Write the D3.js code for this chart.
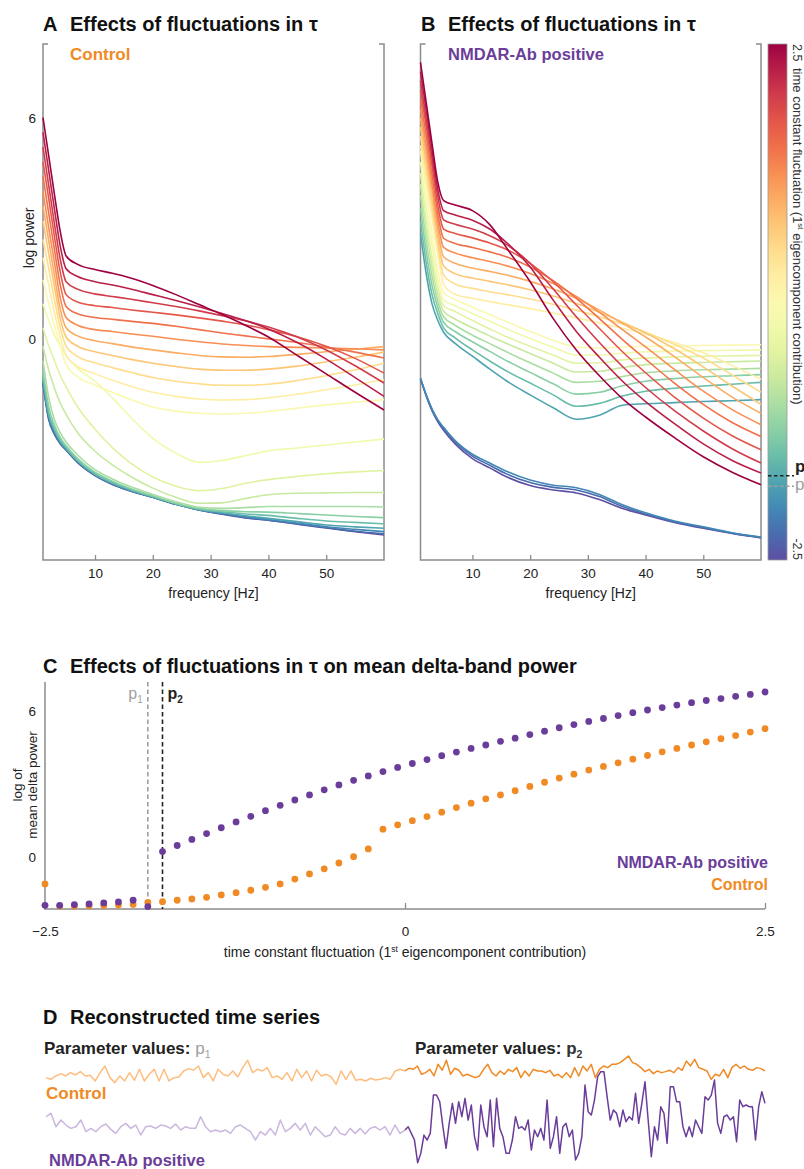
<!DOCTYPE html>
<html>
<head>
<meta charset="utf-8">
<script src="https://cdn.jsdelivr.net/npm/d3@7"></script>
<style>
  body { margin: 0; background: #fff; }
  svg { display: block; font-family: "Liberation Sans", Arial, Helvetica, sans-serif; }
</style>
</head>
<body>
<svg id="fig" width="804" height="1169"></svg>
<script>
// ---------- spectra (panels A and B) ----------
const freqGrid = [1, 2, 3, 4, 5, 7, 10, 13, 16, 20, 24, 28, 32, 36, 40, 45, 50, 55, 60];
const fluctLevels = [-2.5, -2.25, -2, -1.75, -1.5, -1.25, -1, -0.75, -0.5, -0.25, 0,
                     0.25, 0.5, 0.75, 1, 1.25, 1.5, 1.75, 2, 2.25, 2.5];

// log power per fluctuation level (rows follow fluctLevels), sampled at freqGrid
const controlSpectra = [
  [-1.22, -2.2, -2.6, -2.85, -3.02, -3.36, -3.71, -3.95, -4.12, -4.3, -4.49, -4.64, -4.76, -4.86, -4.92, -5.03, -5.13, -5.23, -5.32],
  [-1.2, -2.17, -2.57, -2.84, -3.01, -3.35, -3.7, -3.94, -4.12, -4.3, -4.49, -4.64, -4.75, -4.85, -4.92, -5.02, -5.12, -5.22, -5.29],
  [-1.15, -2.13, -2.54, -2.82, -3.0, -3.34, -3.69, -3.93, -4.11, -4.3, -4.49, -4.64, -4.74, -4.83, -4.9, -5.0, -5.1, -5.17, -5.23],
  [-1.1, -2.08, -2.5, -2.8, -2.98, -3.32, -3.68, -3.92, -4.1, -4.29, -4.48, -4.63, -4.72, -4.8, -4.87, -4.96, -5.05, -5.1, -5.14],
  [-1.0, -2.0, -2.45, -2.75, -2.95, -3.3, -3.66, -3.9, -4.08, -4.28, -4.47, -4.62, -4.69, -4.75, -4.79, -4.87, -4.94, -4.98, -5.02],
  [-0.85, -1.85, -2.35, -2.68, -2.9, -3.25, -3.62, -3.86, -4.05, -4.26, -4.46, -4.6, -4.66, -4.69, -4.7, -4.74, -4.78, -4.82, -4.85],
  [-0.6, -1.6, -2.2, -2.55, -2.8, -3.15, -3.55, -3.8, -4.0, -4.22, -4.42, -4.57, -4.6, -4.58, -4.55, -4.55, -4.55, -4.55, -4.56],
  [-0.2, -0.85, -1.35, -1.75, -2.05, -2.55, -3.05, -3.42, -3.72, -4.05, -4.3, -4.46, -4.45, -4.33, -4.23, -4.19, -4.18, -4.17, -4.17],
  [0.3, -0.2, -0.6, -1.0, -1.3, -1.85, -2.45, -2.95, -3.35, -3.75, -4.0, -4.12, -4.06, -3.92, -3.82, -3.73, -3.66, -3.61, -3.57],
  [0.95, 0.5, 0.1, -0.2, -0.45, -0.8, -1.15, -1.6, -2.1, -2.7, -3.1, -3.35, -3.3, -3.17, -3.04, -2.96, -2.88, -2.8, -2.72],
  [1.6, 0.95, 0.35, -0.2, -0.7, -1.03, -1.25, -1.45, -1.64, -1.85, -1.96, -2.02, -2.04, -2.02, -1.97, -1.88, -1.79, -1.72, -1.65],
  [2.2, 1.45, 0.7, 0.05, -0.45, -0.75, -0.95, -1.12, -1.28, -1.45, -1.56, -1.63, -1.66, -1.65, -1.6, -1.5, -1.38, -1.25, -1.11],
  [2.7, 1.9, 1.05, 0.3, -0.2, -0.48, -0.65, -0.78, -0.9, -1.05, -1.15, -1.22, -1.26, -1.26, -1.23, -1.13, -1.0, -0.84, -0.66],
  [3.2, 2.3, 1.4, 0.55, 0.05, -0.2, -0.35, -0.45, -0.55, -0.66, -0.75, -0.82, -0.85, -0.85, -0.82, -0.74, -0.62, -0.5, -0.36],
  [3.6, 2.65, 1.7, 0.8, 0.3, 0.08, -0.05, -0.13, -0.21, -0.3, -0.38, -0.45, -0.49, -0.5, -0.48, -0.42, -0.35, -0.28, -0.21],
  [4.0, 3.0, 2.05, 1.1, 0.58, 0.37, 0.25, 0.2, 0.14, 0.07, -0.01, -0.08, -0.14, -0.18, -0.21, -0.23, -0.25, -0.27, -0.3],
  [4.4, 3.4, 2.4, 1.45, 0.88, 0.68, 0.58, 0.53, 0.48, 0.42, 0.34, 0.25, 0.16, 0.08, 0.0, -0.1, -0.22, -0.36, -0.52],
  [4.8, 3.8, 2.75, 1.8, 1.2, 1.0, 0.9, 0.85, 0.79, 0.72, 0.65, 0.57, 0.48, 0.38, 0.25, 0.06, -0.2, -0.53, -0.93],
  [5.2, 4.15, 3.1, 2.15, 1.55, 1.35, 1.22, 1.15, 1.08, 0.98, 0.88, 0.76, 0.63, 0.49, 0.32, 0.05, -0.3, -0.73, -1.2],
  [5.6, 4.55, 3.5, 2.5, 1.9, 1.69, 1.55, 1.46, 1.36, 1.2, 1.04, 0.87, 0.69, 0.5, 0.27, -0.1, -0.55, -1.05, -1.56],
  [6.0, 4.95, 3.9, 2.9, 2.25, 2.02, 1.88, 1.78, 1.66, 1.45, 1.2, 0.93, 0.66, 0.37, 0.05, -0.45, -0.95, -1.45, -1.93]
];

const nmdarSpectra = [
  [-1.08, -1.55, -1.95, -2.25, -2.48, -2.85, -3.25, -3.5, -3.75, -3.98, -4.1, -4.18, -4.36, -4.6, -4.78, -4.98, -5.14, -5.28, -5.4],
  [-1.08, -1.54, -1.93, -2.22, -2.44, -2.8, -3.18, -3.43, -3.67, -3.9, -4.03, -4.1, -4.28, -4.55, -4.75, -4.96, -5.12, -5.27, -5.39],
  [-1.07, -1.52, -1.9, -2.19, -2.4, -2.76, -3.13, -3.37, -3.6, -3.83, -3.97, -4.04, -4.22, -4.5, -4.72, -4.94, -5.1, -5.26, -5.38],
  [2.85, 1.75, 0.95, 0.5, 0.18, -0.12, -0.47, -0.82, -1.15, -1.52, -1.87, -2.18, -2.07, -1.8, -1.76, -1.73, -1.7, -1.68, -1.65],
  [3.2, 2.05, 1.2, 0.68, 0.3, 0.03, -0.3, -0.6, -0.88, -1.2, -1.52, -1.83, -1.75, -1.55, -1.42, -1.34, -1.28, -1.23, -1.18],
  [3.55, 2.35, 1.45, 0.85, 0.45, 0.2, -0.08, -0.34, -0.6, -0.91, -1.22, -1.5, -1.45, -1.27, -1.15, -1.08, -1.03, -1.0, -0.97],
  [3.9, 2.65, 1.7, 1.02, 0.6, 0.37, 0.1, -0.13, -0.36, -0.65, -0.93, -1.18, -1.15, -1.02, -0.92, -0.87, -0.84, -0.82, -0.8],
  [4.2, 2.95, 1.95, 1.2, 0.75, 0.54, 0.3, 0.08, -0.13, -0.4, -0.66, -0.9, -0.88, -0.78, -0.7, -0.66, -0.64, -0.62, -0.6],
  [4.5, 3.25, 2.2, 1.36, 0.9, 0.74, 0.5, 0.27, 0.05, -0.2, -0.44, -0.66, -0.65, -0.57, -0.52, -0.49, -0.47, -0.46, -0.45],
  [4.8, 3.6, 2.55, 1.58, 1.05, 0.9, 0.69, 0.48, 0.27, 0.01, -0.23, -0.44, -0.44, -0.39, -0.35, -0.33, -0.32, -0.31, -0.3],
  [5.1, 3.95, 2.9, 1.83, 1.25, 1.07, 0.86, 0.66, 0.46, 0.2, -0.04, -0.22, -0.25, -0.22, -0.2, -0.19, -0.18, -0.17, -0.16],
  [5.25, 4.25, 3.3, 2.3, 1.48, 1.21, 1.1, 1.01, 0.93, 0.82, 0.7, 0.57, 0.43, 0.29, 0.13, -0.1, -0.38, -0.72, -1.1],
  [5.5, 4.5, 3.5, 2.5, 1.73, 1.49, 1.37, 1.28, 1.2, 1.08, 0.94, 0.78, 0.6, 0.4, 0.18, -0.15, -0.52, -0.98, -1.45],
  [5.75, 4.75, 3.75, 2.72, 1.98, 1.77, 1.65, 1.56, 1.47, 1.33, 1.16, 0.96, 0.72, 0.45, 0.16, -0.27, -0.76, -1.28, -1.78],
  [6.0, 5.0, 4.0, 2.95, 2.23, 2.05, 1.92, 1.83, 1.73, 1.56, 1.35, 1.1, 0.78, 0.42, 0.05, -0.48, -1.05, -1.58, -2.02],
  [6.25, 5.25, 4.2, 3.18, 2.48, 2.33, 2.2, 2.1, 1.98, 1.77, 1.5, 1.15, 0.72, 0.25, -0.22, -0.83, -1.42, -1.92, -2.33],
  [6.5, 5.5, 4.45, 3.4, 2.73, 2.59, 2.48, 2.36, 2.22, 1.95, 1.58, 1.1, 0.55, -0.02, -0.55, -1.2, -1.78, -2.27, -2.65],
  [6.75, 5.75, 4.7, 3.62, 2.98, 2.86, 2.74, 2.6, 2.42, 2.05, 1.55, 0.92, 0.28, -0.35, -0.92, -1.58, -2.15, -2.63, -3.01],
  [7.0, 5.95, 4.9, 3.85, 3.23, 3.11, 2.98, 2.8, 2.55, 2.05, 1.35, 0.6, -0.1, -0.75, -1.32, -1.95, -2.5, -2.98, -3.37],
  [7.25, 6.2, 5.1, 4.05, 3.48, 3.36, 3.22, 2.98, 2.6, 1.95, 1.05, 0.2, -0.5, -1.15, -1.7, -2.3, -2.85, -3.3, -3.64],
  [7.5, 6.4, 5.3, 4.25, 3.75, 3.63, 3.48, 3.1, 2.45, 1.55, 0.55, -0.3, -1.0, -1.62, -2.12, -2.68, -3.2, -3.62, -3.96]
];

const freqTicks = [10, 20, 30, 40, 50];
const powerTicks = [0, 6];
const colorbarTicks = [-2.5, 2.5];

// ---------- mean delta-band power (panel C) ----------
const sweepValues = [-2.5, -2.398, -2.296, -2.194, -2.092, -1.99, -1.888, -1.786, -1.684, -1.582,
  -1.48, -1.378, -1.276, -1.173, -1.071, -0.969, -0.867, -0.765, -0.663, -0.561,
  -0.459, -0.357, -0.255, -0.153, -0.051, 0.051, 0.153, 0.255, 0.357, 0.459,
  0.561, 0.663, 0.765, 0.867, 0.969, 1.071, 1.173, 1.276, 1.378, 1.48,
  1.582, 1.684, 1.786, 1.888, 1.99, 2.092, 2.194, 2.296, 2.398, 2.5];
const controlDeltaPower = [-1.11, -2.02, -2.02, -2.01, -2.0, -1.98, -1.95, -1.87, -1.84, -1.78,
  -1.73, -1.66, -1.56, -1.47, -1.37, -1.25, -1.11, -0.91, -0.7, -0.49,
  -0.25, 0.01, 0.33, 1.14, 1.32, 1.49, 1.66, 1.84, 2.03, 2.21,
  2.39, 2.55, 2.72, 2.9, 3.07, 3.24, 3.4, 3.57, 3.72, 3.87,
  4.02, 4.17, 4.32, 4.46, 4.6, 4.73, 4.86, 4.99, 5.13, 5.27];
const nmdarDeltaPower = [-1.99, -1.99, -1.96, -1.93, -1.89, -1.85, -1.78, -2.04, 0.22, 0.47,
  0.72, 0.96, 1.2, 1.44, 1.67, 1.9, 2.12, 2.34, 2.55, 2.76,
  2.96, 3.15, 3.33, 3.51, 3.68, 3.84, 4.0, 4.16, 4.31, 4.46,
  4.6, 4.75, 4.88, 5.03, 5.17, 5.31, 5.44, 5.57, 5.69, 5.81,
  5.93, 6.04, 6.14, 6.24, 6.34, 6.43, 6.51, 6.6, 6.68, 6.78];
const p1Value = -1.786;
const p2Value = -1.684;
const fluctTicks = [-2.5, 0, 2.5];
const deltaTicks = [0, 6];

// ---------- reconstructed time series (panel D), arbitrary units ----------
const controlTraceP1 = [2.0, 1.5, 2.5, 3.2, 2.5, 3.5, 2.8, 3.8, 2.5, 2.7, 1.0, 3.5, 5.5, 2.0, 0.5, 2.5, 1.0, 3.5, 1.2, 4.5,
  1.0, 3.0, 4.5, 1.0, 4.5, 1.0, 2.0, 2.2, 4.0, 4.7, 4.2, 5.5, 2.0, 3.5, 1.0, 4.5, 3.0, 2.5, 4.0, 2.2,
  5.0, 7.2, 3.5, 4.5, 4.0, 5.0, 2.0, 2.5, 1.5, 3.5, 1.0, 4.5, 2.0, 4.0, 1.0, 4.2, 2.5, 3.0, 2.2, 0.0,
  4.0, 1.5, 4.0, 1.2, 1.5, 1.0, 1.8, 1.3, 1.5, 2.0, 1.5, 4.0, 4.5, 4.0];
const controlTraceP2 = [4.0, 4.8, 4.5, 5.5, 3.0, 3.5, 4.5, 2.5, 6.0, 4.2, 7.2, 3.0, 4.8, 4.2, 2.5, 3.0, 2.5, 2.0, 2.5, 4.5,
  6.0, 3.5, 2.5, 4.0, 3.0, 4.5, 3.8, 5.0, 2.0, 4.0, 2.5, 4.5, 4.0, 4.0, 3.5, 4.2, 2.5, 3.0, 2.0, 3.5,
  2.0, 5.0, 2.5, 5.5, 4.0, 6.0, 2.0, 4.5, 5.5, 5.0, 6.0, 6.0, 6.5, 7.5, 8.5, 6.5, 6.0, 5.0, 3.8, 4.5,
  3.2, 4.0, 3.5, 3.8, 4.2, 3.5, 5.0, 4.2, 7.0, 5.5, 7.5, 5.0, 4.5, 4.0, 1.5, 3.0, 2.5, 4.5, 2.0, 5.0,
  6.0, 4.8, 5.5, 4.5, 4.2, 5.0, 4.7, 4.0];
const nmdarTraceP1 = [15.0, 16.0, 12.0, 14.0, 12.5, 11.5, 12.0, 14.0, 10.5, 11.5, 10.5, 12.0, 12.8, 11.2, 10.0, 12.0, 13.0, 11.5, 12.5, 9.5,
  12.0, 12.2, 11.5, 12.5, 12.2, 11.5, 12.8, 11.0, 12.0, 11.5, 11.5, 15.0, 12.0, 10.5, 11.0, 10.5, 11.0, 10.0, 12.0, 12.5,
  11.5, 10.5, 8.0, 10.5, 9.5, 11.5, 9.5, 14.0, 10.5, 11.5, 13.0, 11.0, 13.0, 9.5, 12.0, 10.5, 9.0, 9.5, 12.0, 10.0,
  9.5, 11.5, 10.0, 11.5, 9.8, 11.5, 12.0, 11.0, 12.0, 9.5, 12.5, 10.0, 11.0];
const nmdarTraceP2 = [11.0, 12.0, 10.0, 8.0, 1.2, 4.0, 9.5, 8.0, 10.0, 21.5, 21.5, 19.5, 12.0, 5.5, 13.0, 19.0, 13.0, 19.5, 15.0, 20.5,
  14.0, 18.5, 9.0, 5.0, 18.5, 12.0, 9.0, 20.0, 6.0, 20.5, 11.5, 9.0, 4.0, 4.0, 8.0, 15.0, 11.5, 12.0, 11.0, 14.0,
  5.0, 11.0, 9.0, 11.5, 8.0, 20.0, 5.5, 9.0, 15.0, 4.0, 12.0, 13.0, 9.0, 11.0, 2.0, 4.0, 9.0, 24.5, 16.5, 15.5,
  20.0, 27.0, 28.5, 28.5, 21.0, 14.0, 17.0, 16.0, 12.0, 17.0, 13.5, 15.0, 14.0, 22.0, 13.0, 19.0, 25.5, 14.0, 3.0, 12.0,
  8.0, 18.0, 16.0, 7.0, 24.0, 24.0, 19.5, 19.5, 12.0, 9.0, 12.0, 9.0, 14.0, 12.0, 10.0, 21.0, 20.0, 21.5, 26.0, 13.0,
  10.0, 15.0, 15.5, 14.0, 15.0, 7.5, 20.0, 18.0, 18.5, 18.0, 18.0, 8.0, 18.0, 22.5, 19.0];

// ---------- styling ----------
const ORANGE = "#f08a24";
const PURPLE = "#6a3d9a";
const LIGHT_ORANGE = "#fdbd7e";
const LIGHT_PURPLE = "#cbb7de";
const AXIS_GREY = "#8c8c8c";
const TEXT = "#222";
const fluctColor = v => d3.interpolateSpectral((2.5 - v) / 5);

const svg = d3.select("#fig");

function panelTitle(letter, text, x, y) {
  svg.append("text").attr("x", x).attr("y", y).attr("font-size", 20).attr("font-weight", "bold")
    .attr("fill", "#111").text(letter);
  svg.append("text").attr("x", x + 27).attr("y", y).attr("font-size", 20).attr("font-weight", "bold")
    .attr("fill", "#111").text(text);
}

function styleAxis(g) {
  g.select(".domain").remove();
  g.selectAll(".tick line").attr("stroke", AXIS_GREY).attr("stroke-width", 1.3);
  g.selectAll(".tick text").attr("font-size", 13.5).attr("fill", TEXT)
    .attr("font-family", "'Liberation Sans', Arial, sans-serif");
}

// ---------- panels A and B ----------
const specY = d3.scaleLinear().domain([-6, 8]).range([560, 44]);

function drawSpectra(x0, x1, spectra, showY) {
  const x = d3.scaleLinear().domain([1, 60]).range([x0, x1]);
  const g = svg.append("g");
  const line = d3.line()
    .x((d, i) => x(freqGrid[i]))
    .y(d => specY(d))
    .curve(d3.curveMonotoneX);

  // frame: side lines, bottom line and short corner ticks at the top
  g.append("path").attr("d", `M${x0 + 5},44H${x0}V560H${x1}V44H${x1 - 5}`)
    .attr("stroke", AXIS_GREY).attr("stroke-width", 1.5).attr("fill", "none");

  g.append("g").selectAll("path").data(spectra).join("path")
    .attr("d", line)
    .attr("fill", "none")
    .attr("stroke", (d, i) => fluctColor(fluctLevels[i]))
    .attr("stroke-width", 1.6)
    .attr("stroke-linejoin", "round");

  const ax = g.append("g").attr("transform", "translate(0,560)")
    .call(d3.axisBottom(x).tickValues(freqTicks).tickSize(-5).tickPadding(8));
  styleAxis(ax);

  if (showY) {
    const ay = g.append("g").attr("transform", `translate(${x0},0)`)
      .call(d3.axisLeft(specY).tickValues(powerTicks).tickSize(0).tickPadding(7));
    styleAxis(ay);
    g.append("text").attr("transform", "translate(34,238) rotate(-90)")
      .attr("text-anchor", "middle").attr("font-size", 14).attr("fill", TEXT).text("log power");
  }

  g.append("text").attr("x", (x0 + x1) / 2).attr("y", 598).attr("text-anchor", "middle")
    .attr("font-size", 14).attr("fill", TEXT).text("frequency [Hz]");
}

panelTitle("A", "Effects of fluctuations in τ", 43, 31);
panelTitle("B", "Effects of fluctuations in τ", 421, 31);

drawSpectra(43, 384, controlSpectra, true);
drawSpectra(420.5, 761, nmdarSpectra, false);

svg.append("text").attr("x", 70).attr("y", 60).attr("font-size", 17).attr("font-weight", "bold")
  .attr("fill", ORANGE).text("Control");
svg.append("text").attr("x", 448).attr("y", 60).attr("font-size", 16.5).attr("font-weight", "bold")
  .attr("fill", PURPLE).text("NMDAR-Ab positive");

// ---------- colour bar ----------
const cbScale = d3.scaleLinear().domain([-2.5, 2.5]).range([560, 44]);
const grad = svg.append("defs").append("linearGradient").attr("id", "fluctGradient")
  .attr("x1", 0).attr("y1", 1).attr("x2", 0).attr("y2", 0);
d3.range(0, 1.0001, 0.05).forEach(t => {
  grad.append("stop").attr("offset", t).attr("stop-color", fluctColor(-2.5 + 5 * t));
});
svg.append("rect").attr("x", 768).attr("y", cbScale(2.5)).attr("width", 19)
  .attr("height", cbScale(-2.5) - cbScale(2.5))
  .attr("fill", "url(#fluctGradient)").attr("stroke", "#9a9a9a").attr("stroke-width", 0.8);

svg.append("text").attr("transform", `translate(793,${cbScale(colorbarTicks[1])}) rotate(90)`)
  .attr("font-size", 12.5).attr("fill", "#333").text("2.5");
svg.append("text").attr("transform", `translate(793,${cbScale(colorbarTicks[0])}) rotate(90)`)
  .attr("text-anchor", "end").attr("font-size", 12.5).attr("fill", "#333").text("-2.5");
const cbLabel = svg.append("text").attr("transform", "translate(793,68) rotate(90)")
  .attr("font-size", 13).attr("fill", "#333");
cbLabel.append("tspan").text("time constant fluctuation (1");
cbLabel.append("tspan").attr("font-size", 8).attr("dy", -5).text("st");
cbLabel.append("tspan").attr("dy", 5).text(" eigencomponent contribution)");

[[p2Value, "#222", "bold", "2", -4], [p1Value, "#a0a0a0", "normal", "1", 4]].forEach(([v, c, w, s, off]) => {
  svg.append("line").attr("x1", 768).attr("x2", 794).attr("y1", cbScale(v)).attr("y2", cbScale(v))
    .attr("stroke", c).attr("stroke-width", 1.5).attr("stroke-dasharray", "3.5,2.5");
  const t = svg.append("text").attr("x", 795).attr("y", cbScale(v) + off).attr("font-size", 17)
    .attr("font-weight", w).attr("fill", c);
  t.append("tspan").text("p");
  t.append("tspan").attr("font-size", 10).attr("dy", 4).text(s);
});

// ---------- panel C ----------
panelTitle("C", "Effects of fluctuations in τ on mean delta-band power", 43, 673);

const xC = d3.scaleLinear().domain([-2.5, 2.5]).range([45, 765]);
const yC = d3.scaleLinear().domain([-2.14, 7.19]).range([909, 682]);
const gC = svg.append("g");

gC.append("path").attr("d", `M${xC(-2.5)},${yC(7.19)}V${yC(-2.14)}H${xC(2.5)}`)
  .attr("fill", "none").attr("stroke", AXIS_GREY).attr("stroke-width", 1.5);
const axC = gC.append("g").attr("transform", `translate(0,${yC(-2.14)})`)
  .call(d3.axisBottom(xC).tickValues(fluctTicks).tickSize(-6).tickPadding(17).tickFormat(d3.format("")));
styleAxis(axC);
const ayC = gC.append("g").attr("transform", `translate(${xC(-2.5)},0)`)
  .call(d3.axisLeft(yC).tickValues(deltaTicks).tickSize(0).tickPadding(9));
styleAxis(ayC);

gC.append("text").attr("transform", "translate(22,785) rotate(-90)").attr("text-anchor", "middle")
  .attr("font-size", 13.5).attr("fill", TEXT).text("log of");
gC.append("text").attr("transform", "translate(37,785) rotate(-90)").attr("text-anchor", "middle")
  .attr("font-size", 13.5).attr("fill", TEXT).text("mean delta power");

const xLab = gC.append("text").attr("x", xC(0)).attr("y", 957).attr("text-anchor", "middle")
  .attr("font-size", 14).attr("fill", TEXT);
xLab.append("tspan").text("time constant fluctuation (1");
xLab.append("tspan").attr("font-size", 8.5).attr("dy", -5).text("st");
xLab.append("tspan").attr("dy", 5).text(" eigencomponent contribution)");

// parameter markers
[[p1Value, "#a0a0a0"], [p2Value, "#222"]].forEach(([v, c]) => {
  gC.append("line").attr("x1", xC(v)).attr("x2", xC(v)).attr("y1", yC(7.19)).attr("y2", yC(-2.14))
    .attr("stroke", c).attr("stroke-width", 1.6).attr("stroke-dasharray", "4.5,3");
});
const p1Lab = gC.append("text").attr("x", xC(p1Value) - 5).attr("y", 699).attr("text-anchor", "end")
  .attr("font-size", 16).attr("fill", "#a0a0a0");
p1Lab.append("tspan").text("p");
p1Lab.append("tspan").attr("font-size", 10).attr("dy", 4).text("1");
const p2Lab = gC.append("text").attr("x", xC(p2Value) + 5).attr("y", 699)
  .attr("font-size", 16).attr("font-weight", "bold").attr("fill", "#222");
p2Lab.append("tspan").text("p");
p2Lab.append("tspan").attr("font-size", 10).attr("dy", 4).text("2");

gC.append("g").selectAll("circle").data(controlDeltaPower).join("circle")
  .attr("cx", (d, i) => xC(sweepValues[i])).attr("cy", d => yC(d)).attr("r", 3.4).attr("fill", ORANGE);
gC.append("g").selectAll("circle").data(nmdarDeltaPower).join("circle")
  .attr("cx", (d, i) => xC(sweepValues[i])).attr("cy", d => yC(d)).attr("r", 3.4).attr("fill", PURPLE);

gC.append("text").attr("x", 768).attr("y", 868).attr("text-anchor", "end").attr("font-size", 16)
  .attr("font-weight", "bold").attr("fill", PURPLE).text("NMDAR-Ab positive");
gC.append("text").attr("x", 768).attr("y", 890).attr("text-anchor", "end").attr("font-size", 16)
  .attr("font-weight", "bold").attr("fill", ORANGE).text("Control");

// ---------- panel D ----------
panelTitle("D", "Reconstructed time series", 43, 1024);

function paramLabel(x, sub, color, weight) {
  const t = svg.append("text").attr("x", x).attr("y", 1054).attr("font-size", 17).attr("fill", "#222");
  t.append("tspan").attr("font-weight", "bold").text("Parameter values: ");
  t.append("tspan").attr("fill", color).attr("font-weight", weight).text("p");
  t.append("tspan").attr("fill", color).attr("font-weight", weight).attr("font-size", 10.5).attr("dy", 4).text(sub);
}
paramLabel(44, "1", "#a0a0a0", "normal");
paramLabel(415, "2", "#333", "bold");

const yCtrl = d3.scaleLinear().domain([0, 9]).range([1084.3, 1054.3]);
const yNmdar = d3.scaleLinear().domain([0, 30]).range([1166.7, 1066.7]);

function drawTrace(values, xa, xb, yScale, color) {
  const x = d3.scaleLinear().domain([0, values.length - 1]).range([xa, xb]);
  svg.append("path").datum(values)
    .attr("d", d3.line().x((d, i) => x(i)).y(d => yScale(d)))
    .attr("fill", "none").attr("stroke", color).attr("stroke-width", 1.5).attr("stroke-linejoin", "round");
}
drawTrace(controlTraceP1, 46, 405, yCtrl, LIGHT_ORANGE);
drawTrace(controlTraceP2, 405, 765, yCtrl, ORANGE);
drawTrace(nmdarTraceP1, 46, 405, yNmdar, LIGHT_PURPLE);
drawTrace(nmdarTraceP2, 405, 765, yNmdar, PURPLE);

svg.append("text").attr("x", 46).attr("y", 1099).attr("font-size", 17).attr("font-weight", "bold")
  .attr("fill", ORANGE).text("Control");
svg.append("text").attr("x", 49).attr("y", 1166).attr("font-size", 16.5).attr("font-weight", "bold")
  .attr("fill", PURPLE).text("NMDAR-Ab positive");
</script>
</body>
</html>
